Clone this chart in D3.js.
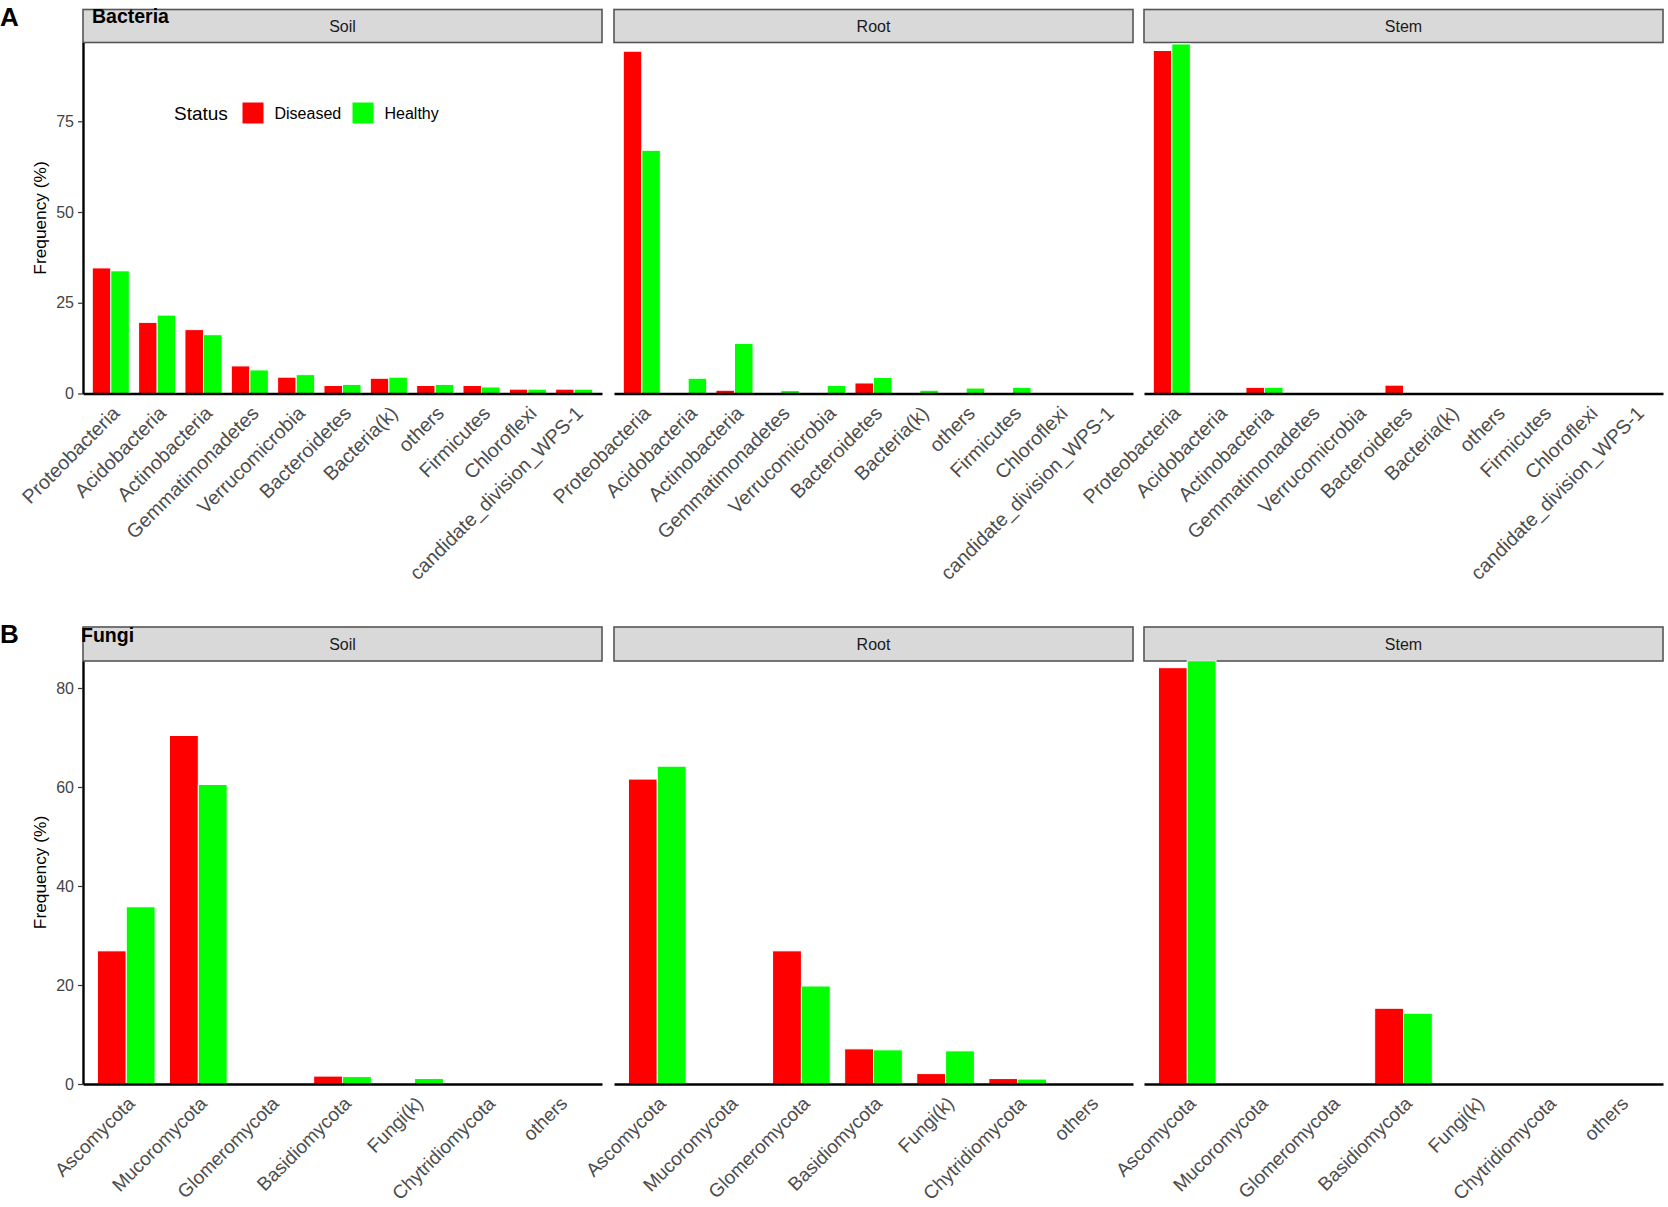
<!DOCTYPE html>
<html>
<head>
<meta charset="utf-8">
<script src="https://cdn.jsdelivr.net/npm/d3@7"></script>
<style>
  body { margin: 0; background: #fff; }
  svg { display: block; font-family: "Liberation Sans", Arial, sans-serif; }
</style>
</head>
<body>
<div id="chart"></div>
<script>
// categories
var compartments = ["Soil", "Root", "Stem"];
var statuses = ["Diseased", "Healthy"];
var statusColors = ["#ff0000", "#00ff00"];

var bacteriaPhyla = ["Proteobacteria", "Acidobacteria", "Actinobacteria", "Gemmatimonadetes",
  "Verrucomicrobia", "Bacteroidetes", "Bacteria(k)", "others", "Firmicutes", "Chloroflexi",
  "candidate_division_WPS-1"];
var fungiPhyla = ["Ascomycota", "Mucoromycota", "Glomeromycota", "Basidiomycota",
  "Fungi(k)", "Chytridiomycota", "others"];

// frequency (%), one row per compartment (Soil, Root, Stem)
var bacteriaDiseased = [
  [34.6, 19.6, 17.6, 7.6, 4.5, 2.2, 4.2, 2.2, 2.2, 1.2, 1.2],
  [94.3, 0, 0.9, 0, 0, 2.9, 0, 0, 0, 0, 0],
  [94.5, 0, 1.7, 0, 0, 2.3, 0, 0, 0, 0, 0]
];
var bacteriaHealthy = [
  [33.8, 21.6, 16.2, 6.5, 5.2, 2.5, 4.5, 2.5, 1.8, 1.2, 1.2],
  [67.0, 4.2, 13.8, 0.8, 2.2, 4.4, 0.9, 1.5, 1.7, 0, 0],
  [96.3, 0, 1.7, 0, 0, 0, 0, 0, 0, 0, 0]
];
var fungiDiseased = [
  [26.9, 70.4, 0, 1.6, 0.2, 0, 0],
  [61.6, 0, 26.9, 7.1, 2.1, 1.1, 0],
  [84.1, 0, 0, 15.3, 0, 0, 0]
];
var fungiHealthy = [
  [35.8, 60.5, 0, 1.5, 1.1, 0, 0],
  [64.2, 0, 19.8, 6.9, 6.7, 1.0, 0],
  [85.5, 0, 0, 14.3, 0, 0, 0]
];

// tick labels
var bacteriaTicks = [0, 25, 50, 75];
var fungiTicks = [0, 20, 40, 60, 80];

var width = 1668, height = 1207;
var panelX = [83, 614, 1144];
var panelW = 519;

var svg = d3.select("#chart").append("svg")
  .attr("width", width)
  .attr("height", height);

svg.append("rect").attr("width", width).attr("height", height).attr("fill", "#fff");

function drawRow(opt) {
  var y = d3.scaleLinear()
    .domain([0, opt.yMax])
    .range([opt.base, opt.top]);

  compartments.forEach(function(comp, ci) {
    var x0 = panelX[ci];
    var g = svg.append("g");

    var x = d3.scaleBand()
      .domain(opt.phyla)
      .range([x0, x0 + panelW])
      .paddingInner(0.2)
      .paddingOuter(0.2);
    var xs = d3.scaleBand()
      .domain(statuses)
      .range([0, x.bandwidth()]);

    // strip
    g.append("rect")
      .attr("x", x0)
      .attr("y", opt.stripTop)
      .attr("width", panelW)
      .attr("height", opt.top - opt.stripTop)
      .attr("fill", "#d9d9d9")
      .attr("stroke", "#555")
      .attr("stroke-width", 1.6);
    g.append("text")
      .attr("x", x0 + panelW / 2)
      .attr("y", (opt.top + opt.stripTop) / 2)
      .attr("dy", "0.36em")
      .attr("text-anchor", "middle")
      .attr("font-size", 16)
      .attr("fill", "#1a1a1a")
      .text(comp);

    // bars
    var rows = [];
    opt.phyla.forEach(function(p, i) {
      rows.push({ phylum: p, status: "Diseased", v: opt.diseased[ci][i] });
      rows.push({ phylum: p, status: "Healthy", v: opt.healthy[ci][i] });
    });
    g.selectAll(".bar")
      .data(rows.filter(function(d) { return d.v > 0; }))
      .enter().append("rect")
      .attr("class", "bar")
      .attr("x", function(d) { return x(d.phylum) + xs(d.status); })
      .attr("y", function(d) { return y(d.v); })
      .attr("width", xs.bandwidth())
      .attr("height", function(d) { return y(0) - y(d.v); })
      .attr("fill", function(d) { return statusColors[statuses.indexOf(d.status)]; })
      .attr("stroke", "#fff")
      .attr("stroke-width", 1);

    // x axis
    var xAxis = g.append("g")
      .attr("transform", "translate(0," + opt.base + ")")
      .call(d3.axisBottom(x).tickSize(0).tickSizeOuter(0));
    xAxis.select(".domain").attr("stroke", "#000").attr("stroke-width", 2.6);
    xAxis.selectAll(".tick text")
      .attr("font-size", opt.labelSize)
      .attr("fill", "#4d4d4d")
      .attr("text-anchor", "end")
      .attr("x", 0).attr("y", 0).attr("dy", "0.72em")
      .attr("transform", "translate(0,11) rotate(-45)");

    // y axis on first facet only
    if (ci === 0) {
      var yAxis = g.append("g")
        .attr("transform", "translate(" + x0 + ",0)")
        .call(d3.axisLeft(y).tickValues(opt.ticks).tickSize(5).tickSizeOuter(0).tickPadding(4));
      yAxis.select(".domain").attr("stroke", "#000").attr("stroke-width", 2.4);
      yAxis.selectAll(".tick line").attr("stroke", "#333").attr("stroke-width", 1.2);
      yAxis.selectAll(".tick text").attr("font-size", 16).attr("fill", "#444");

      svg.append("text")
        .attr("transform", "translate(46," + ((opt.top + opt.base) / 2) + ") rotate(-90)")
        .attr("text-anchor", "middle")
        .attr("font-size", 17.3)
        .attr("fill", "#000")
        .text("Frequency (%)");
    }
  });

  // panel letter and title
  svg.append("text")
    .attr("x", 0).attr("y", opt.letterY)
    .attr("font-size", 26).attr("font-weight", "bold")
    .text(opt.letter);
  svg.append("text")
    .attr("x", opt.titleX).attr("y", opt.titleY)
    .attr("font-size", 19.5).attr("font-weight", "bold")
    .text(opt.title);
}

drawRow({
  phyla: bacteriaPhyla, diseased: bacteriaDiseased, healthy: bacteriaHealthy,
  ticks: bacteriaTicks, yMax: 96.7, top: 42.5, base: 393.5, stripTop: 9.5, labelSize: 19.7,
  letter: "A", letterY: 26, title: "Bacteria", titleX: 92, titleY: 23
});
drawRow({
  phyla: fungiPhyla, diseased: fungiDiseased, healthy: fungiHealthy,
  ticks: fungiTicks, yMax: 85.45, top: 661, base: 1084, stripTop: 627, labelSize: 19,
  letter: "B", letterY: 643, title: "Fungi", titleX: 81, titleY: 642
});

// legend (inside Bacteria soil panel)
var legend = svg.append("g").attr("transform", "translate(174,113)");
legend.append("text")
  .attr("x", 0).attr("dy", "0.36em")
  .attr("font-size", 19)
  .text("Status");
var keyX = [68, 178];
statuses.forEach(function(s, i) {
  legend.append("rect")
    .attr("x", keyX[i]).attr("y", -11)
    .attr("width", 22).attr("height", 22)
    .attr("fill", statusColors[i])
    .attr("stroke", "#fff");
  legend.append("text")
    .attr("x", keyX[i] + 32.5).attr("dy", "0.36em")
    .attr("font-size", 16)
    .text(s);
});
</script>
</body>
</html>
